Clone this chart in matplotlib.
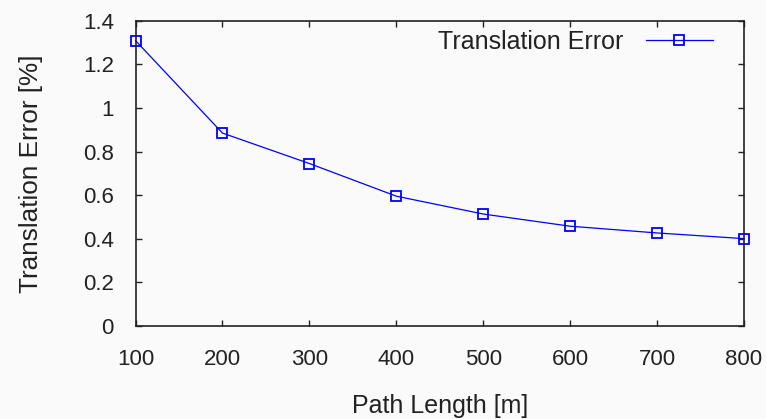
import matplotlib.pyplot as plt
import numpy as np

path_length = [100, 200, 300, 400, 500, 600, 700, 800]
trans_err = [1.31, 0.885, 0.745, 0.595, 0.513, 0.457, 0.426, 0.400]
yticks = [0, 0.2, 0.4, 0.6, 0.8, 1.0, 1.2, 1.4]
ylabels = ["0", "0.2", "0.4", "0.6", "0.8", "1", "1.2", "1.4"]

plt.rcParams['font.family'] = ['Liberation Sans', 'DejaVu Sans']

fig = plt.figure(figsize=(7.66, 4.19), dpi=100, facecolor='#fafafa')
ax = fig.add_axes([0.1769, 0.2227, 0.9713 - 0.1769, 0.95 - 0.2227])
ax.set_facecolor('#fafafa')

ax.plot(path_length, trans_err, color='#0000ff', lw=0.9, marker='s',
        markersize=7.5, markerfacecolor='none', markeredgewidth=1.3,
        label='Translation Error', clip_on=False)

ax.set_xlim(100, 800)
ax.set_ylim(0, 1.4)
ax.set_xticks(path_length)
ax.set_yticks(yticks)
ax.set_yticklabels(ylabels)
ax.tick_params(direction='in', top=True, right=True, length=4, width=1,
               labelsize=16, colors='#222222')
ax.tick_params(axis='x', pad=17)
ax.tick_params(axis='y', pad=15.5)
for s in ax.spines.values():
    s.set_linewidth(1.2)
    s.set_color('#222222')

ax.set_xlabel('Path Length [m]', fontsize=18, color='#222222', labelpad=17)
ax.set_ylabel('Translation Error [%]', fontsize=18.8, color='#222222', labelpad=29)

ax.legend(loc='upper right', bbox_to_anchor=(0.949, 0.971), frameon=False,
          markerfirst=False, fontsize=18, handlelength=2.68,
          borderaxespad=0, borderpad=0, handletextpad=0.92,
          labelcolor='#222222')

fig.savefig('out.png', dpi=100, facecolor=fig.get_facecolor())
